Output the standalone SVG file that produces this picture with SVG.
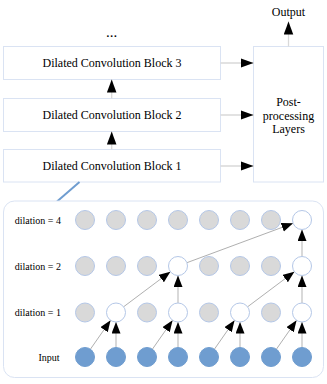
<svg xmlns="http://www.w3.org/2000/svg" width="327" height="384" viewBox="0 0 327 384">
<style>
.box{fill:#fff;stroke:#dae3f3;stroke-width:1}
text{font-family:'Liberation Serif','Times New Roman','DejaVu Serif',serif;fill:#000}
.t{font-size:12px}
.s{font-size:10px}
.lc{stroke:#d9d9d9;stroke-width:1.3;fill:none}
.vg{stroke:#d9d9d9;stroke-width:2;fill:none}
.dg{stroke:#8c8c8c;stroke-width:0.7;fill:none}
.g{fill:#d9d9d9;stroke:#b4c7e7;stroke-width:1}
.w{fill:#fff;stroke:#b4c7e7;stroke-width:1}
.b{fill:#6f9dd0;stroke:#6f9dd0;stroke-width:1}
</style>
<defs>
<marker id="ah" markerUnits="userSpaceOnUse" markerWidth="14" markerHeight="10" refX="13" refY="4.75" orient="auto">
<path d="M0,0 L13,4.75 L0,9.5 z" fill="#000"/>
</marker>
<marker id="as" markerUnits="userSpaceOnUse" markerWidth="12" markerHeight="10" refX="11.5" refY="4.5" orient="auto">
<path d="M0,0 L11.5,4.5 L0,9 z" fill="#000"/>
</marker>
</defs>

<g id="block3"><rect class="box" x="3.5" y="46.5" width="217" height="33"/><text class="t" x="112" y="67" text-anchor="middle">Dilated Convolution Block 3</text></g>
<g id="block2"><rect class="box" x="3.5" y="98.5" width="217" height="33"/><text class="t" x="112" y="119" text-anchor="middle">Dilated Convolution Block 2</text></g>
<g id="block1"><rect class="box" x="3.5" y="149.5" width="217" height="32.5"/><text class="t" x="112" y="170" text-anchor="middle">Dilated Convolution Block 1</text></g>
<g id="post"><rect class="box" x="253.5" y="46.5" width="70" height="135.5"/>
<text class="t" x="288.5" y="106" text-anchor="middle">Post-</text>
<text class="t" x="288.5" y="119.5" text-anchor="middle">processing</text>
<text class="t" x="288.5" y="133" text-anchor="middle">Layers</text></g>
<g id="output"><text class="t" x="288.5" y="16" text-anchor="middle">Output</text></g>
<g id="dots"><text x="111.5" y="37" text-anchor="middle" style="font-size:15px">...</text></g>

<g id="connectors">
<line class="lc" x1="220.5" y1="63" x2="253.5" y2="63" marker-end="url(#ah)"/>
<line class="lc" x1="220.5" y1="115" x2="253.5" y2="115" marker-end="url(#ah)"/>
<line class="lc" x1="220.5" y1="166" x2="253.5" y2="166" marker-end="url(#ah)"/>
<line class="lc" x1="111.7" y1="98.5" x2="111.7" y2="79.5" marker-end="url(#ah)"/>
<line class="lc" x1="111.7" y1="149.5" x2="111.7" y2="131.5" marker-end="url(#ah)"/>
<line class="lc" x1="288.5" y1="46.5" x2="288.5" y2="21.5" marker-end="url(#ah)"/>
<line x1="79.5" y1="182" x2="57" y2="201.5" stroke="#6f9dd0" stroke-width="2"/>
</g>

<g id="panel">
<rect x="3.5" y="201" width="320" height="176.5" rx="11" fill="#fff" stroke="#dae3f3" stroke-width="1"/>
<text class="s" x="61" y="223.5" text-anchor="end">dilation = 4</text>
<text class="s" x="61" y="269.5" text-anchor="end">dilation = 2</text>
<text class="s" x="61" y="316" text-anchor="end">dilation = 1</text>
<text class="s" x="59.5" y="360.5" text-anchor="end">Input</text>
</g>

<g id="grid-connectors">
<line class="vg" x1="116" y1="347.5" x2="116" y2="322" marker-end="url(#as)"/>
<line class="vg" x1="178" y1="347.5" x2="178" y2="322" marker-end="url(#as)"/>
<line class="vg" x1="240" y1="347.5" x2="240" y2="322" marker-end="url(#as)"/>
<line class="vg" x1="302" y1="347.5" x2="302" y2="322" marker-end="url(#as)"/>
<line class="dg" x1="90.4" y1="349.2" x2="110.6" y2="320.3" marker-end="url(#as)"/>
<line class="dg" x1="152.4" y1="349.2" x2="172.6" y2="320.3" marker-end="url(#as)"/>
<line class="dg" x1="214.4" y1="349.2" x2="234.6" y2="320.3" marker-end="url(#as)"/>
<line class="dg" x1="276.4" y1="349.2" x2="296.6" y2="320.3" marker-end="url(#as)"/>
<line class="vg" x1="178" y1="303" x2="178" y2="275.5" marker-end="url(#as)"/>
<line class="vg" x1="302" y1="303" x2="302" y2="275.5" marker-end="url(#as)"/>
<line class="dg" x1="123.6" y1="306.8" x2="170.4" y2="271.7" marker-end="url(#as)"/>
<line class="dg" x1="247.6" y1="306.8" x2="294.4" y2="271.7" marker-end="url(#as)"/>
<line class="vg" x1="302" y1="256.5" x2="302" y2="229.5" marker-end="url(#as)"/>
<line class="dg" x1="186.9" y1="262.7" x2="293.1" y2="223.3" marker-end="url(#as)"/>
</g>

<g id="row-dil4">
<circle class="g" cx="85" cy="220" r="9.5"/><circle class="g" cx="116" cy="220" r="9.5"/><circle class="g" cx="147" cy="220" r="9.5"/><circle class="g" cx="178" cy="220" r="9.5"/><circle class="g" cx="209" cy="220" r="9.5"/><circle class="g" cx="240" cy="220" r="9.5"/><circle class="g" cx="271" cy="220" r="9.5"/><circle class="w" cx="302" cy="220" r="9.5"/>
</g>
<g id="row-dil2">
<circle class="g" cx="85" cy="266" r="9.5"/><circle class="g" cx="116" cy="266" r="9.5"/><circle class="g" cx="147" cy="266" r="9.5"/><circle class="w" cx="178" cy="266" r="9.5"/><circle class="g" cx="209" cy="266" r="9.5"/><circle class="g" cx="240" cy="266" r="9.5"/><circle class="g" cx="271" cy="266" r="9.5"/><circle class="w" cx="302" cy="266" r="9.5"/>
</g>
<g id="row-dil1">
<circle class="g" cx="85" cy="312.5" r="9.5"/><circle class="w" cx="116" cy="312.5" r="9.5"/><circle class="g" cx="147" cy="312.5" r="9.5"/><circle class="w" cx="178" cy="312.5" r="9.5"/><circle class="g" cx="209" cy="312.5" r="9.5"/><circle class="w" cx="240" cy="312.5" r="9.5"/><circle class="g" cx="271" cy="312.5" r="9.5"/><circle class="w" cx="302" cy="312.5" r="9.5"/>
</g>
<g id="row-input">
<circle class="b" cx="85" cy="357" r="9.5"/><circle class="b" cx="116" cy="357" r="9.5"/><circle class="b" cx="147" cy="357" r="9.5"/><circle class="b" cx="178" cy="357" r="9.5"/><circle class="b" cx="209" cy="357" r="9.5"/><circle class="b" cx="240" cy="357" r="9.5"/><circle class="b" cx="271" cy="357" r="9.5"/><circle class="b" cx="302" cy="357" r="9.5"/>
</g>
</svg>
